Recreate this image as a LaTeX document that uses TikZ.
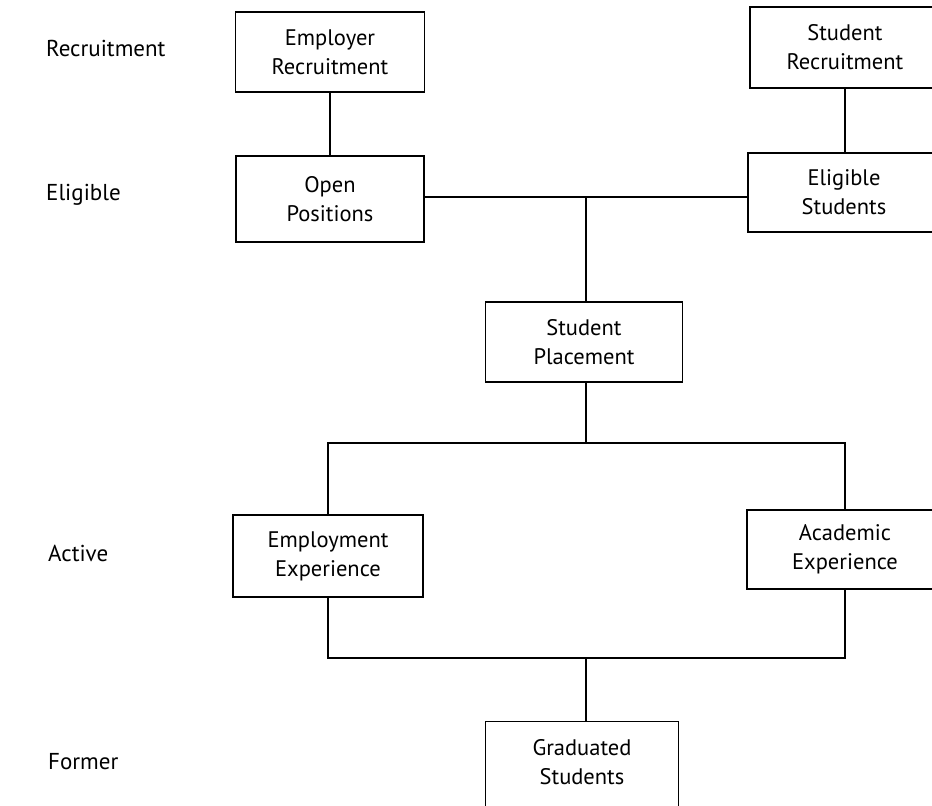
\documentclass[tikz,border=0pt]{standalone}
\usepackage{fontspec}
\setmainfont{PT Sans}
\begin{document}
\begin{tikzpicture}[x=1pt,y=-1pt,
  box/.style={draw, line width=1.3pt, align=center, inner sep=0pt, font=\fontsize{22.5}{29}\selectfont},
  lab/.style={anchor=west, inner sep=0pt, font=\fontsize{23}{29}\selectfont},
  conn/.style={line width=1.3pt}]
\clip (0,0) rectangle (932,806);
% level labels
\node[lab] (lr) at (46,48) {Recruitment};
\node[lab] (le) at (46,195) {Eligible};
\node[lab] (la) at (48,553) {Active};
\node[lab] (lf) at (48,762) {Former};
% boxes
\node[box, minimum width=189pt, minimum height=80pt] (er) at (330,52) {Employer\\Recruitment};
\node[box, minimum width=190pt, minimum height=81pt] (sr) at (845,47.5) {Student\\Recruitment};
\node[box, minimum width=188pt, minimum height=86pt] (op) at (330,199) {Open\\Positions};
\node[box, minimum width=192pt, minimum height=79pt] (es) at (844,192.5) {Eligible\\Students};
\node[box, minimum width=197pt, minimum height=80pt] (sp) at (584,342) {Student\\Placement};
\node[box, minimum width=190pt, minimum height=82pt] (ee) at (328,556) {Employment\\Experience};
\node[box, minimum width=196pt, minimum height=79pt] (ae) at (845,549.5) {Academic\\Experience};
\node[box, draw=none, minimum width=192pt, minimum height=80pt] (gs) at (582,762) {Graduated\\Students};
\draw[conn] ([yshift=-30pt]gs.south west) -- (gs.north west) -- (gs.north east) -- ([yshift=-30pt]gs.south east);
% connectors
\coordinate (j1) at (586,197);
\coordinate (j2) at (586,443);
\coordinate (j3) at (586,658);
\draw[conn] (er.south) -- (er.south |- op.north);
\draw[conn] (sr.south) -- (sr.south |- es.north);
\draw[conn] (op.east |- j1) -- (es.west |- j1);
\draw[conn] (j1) -- (j1 |- sp.north);
\draw[conn] (j2 |- sp.south) -- (j2);
\draw[conn] (ee.north) -- (ee.north |- j2) -- (ae.north |- j2) -- (ae.north);
\draw[conn] (ee.south) -- (ee.south |- j3) -- (ae.south |- j3) -- (ae.south);
\draw[conn] (j3) -- (j3 |- gs.north);
\end{tikzpicture}
\end{document}
